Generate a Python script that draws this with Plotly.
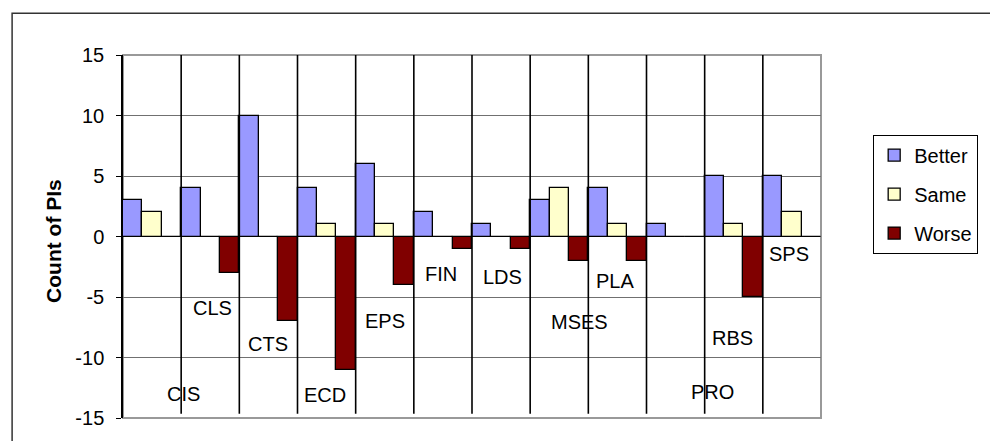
import plotly.graph_objects as go

categories = ["CIS", "CLS", "CTS", "ECD", "EPS", "FIN", "LDS", "MSES", "PLA", "PRO", "RBS", "SPS"]
better = [3, 4, 10, 4, 6, 2, 1, 3, 4, 1, 5, 5]
same = [2, 0, 0, 1, 1, 0, 0, 4, 1, 0, 1, 2]
worse = [0, -3, -7, -11, -4, -1, -1, -2, -2, 0, -5, 0]

y_ticks = [-15, -10, -5, 0, 5, 10, 15]
y_title = "Count of PIs"

# placement of the free-floating category labels (layout only)
label_x = [0.54, 1.03, 1.99, 2.98, 4.01, 4.96, 6.02, 7.34, 7.95, 9.63, 9.98, 10.95]
label_y = [-13.0, -5.94, -8.86, -13.07, -7.02, -3.09, -3.31, -7.10, -3.69, -12.87, -8.41, -1.47]

FONT = "Liberation Sans, Arial, sans-serif"

series = [("Better", better, "#9999FF"), ("Same", same, "#FFFFCC"), ("Worse", worse, "#800000")]

fig = go.Figure()
for name, vals, color in series:
    fig.add_trace(go.Bar(
        x=categories, y=vals, name=name, legendgroup=name,
        marker=dict(color=color, line=dict(color="black", width=1.3)),
    ))

shapes = []
# vertical black separators between categories
for i in range(1, len(categories)):
    shapes.append(dict(type="line", xref="x", yref="y", x0=i - 0.5, x1=i - 0.5,
                       y0=-14.65, y1=15, line=dict(color="black", width=1.6), layer="above"))
# plot area border (grey)
shapes.append(dict(type="rect", xref="paper", yref="paper", x0=0, x1=1, y0=0, y1=1,
                   line=dict(color="#999999", width=2), layer="below"))
# outer chart border
shapes.append(dict(type="rect", xref="paper", yref="paper",
                   x0=(11 - 123) / 705, x1=1.5, y0=-0.5, y1=(429 - 12) / 374,
                   line=dict(color="#333333", width=1.5), layer="below"))

annotations = []
for cat, lx, ly in zip(categories, label_x, label_y):
    annotations.append(dict(x=lx, y=ly, xref="x", yref="y", text=cat, showarrow=False,
                            font=dict(family=FONT, size=20, color="black"),
                            xanchor="center", yanchor="middle"))
annotations.append(dict(x=(53 - 123) / 705, y=0.487, xref="paper", yref="paper",
                        text="<b>" + y_title + "</b>", showarrow=False, textangle=-90,
                        font=dict(family=FONT, size=21, color="black"),
                        xanchor="center", yanchor="middle"))

fig.update_layout(
    width=990, height=441,
    margin=dict(l=123, r=162, t=55, b=12),
    paper_bgcolor="white", plot_bgcolor="white",
    barmode="group", bargap=0, bargroupgap=0,
    font=dict(family=FONT, size=20, color="black"),
    showlegend=True,
    legend=dict(x=(880.7 - 123) / 705, y=(429 - 137) / 374, xanchor="left", yanchor="top",
                bordercolor="black", borderwidth=1, bgcolor="white",
                font=dict(family=FONT, size=20, color="black"),
                tracegroupgap=10, traceorder="grouped", itemwidth=30),
    xaxis=dict(range=[-0.5, len(categories) - 0.5], showticklabels=False, showgrid=False,
               zeroline=False, showline=False, ticks=""),
    yaxis=dict(range=[-15, 15], tickvals=y_ticks, ticktext=[str(v) for v in y_ticks],
               showgrid=True, gridcolor="#707070", gridwidth=1,
               zeroline=True, zerolinecolor="#555555", zerolinewidth=1,
               showline=True, linecolor="black", linewidth=1.5,
               ticks="outside", ticklen=5, tickcolor="black", ticklabelstandoff=8,
               tickfont=dict(family=FONT, size=20, color="black")),
    shapes=shapes, annotations=annotations,
)

fig.write_html("out.html")
